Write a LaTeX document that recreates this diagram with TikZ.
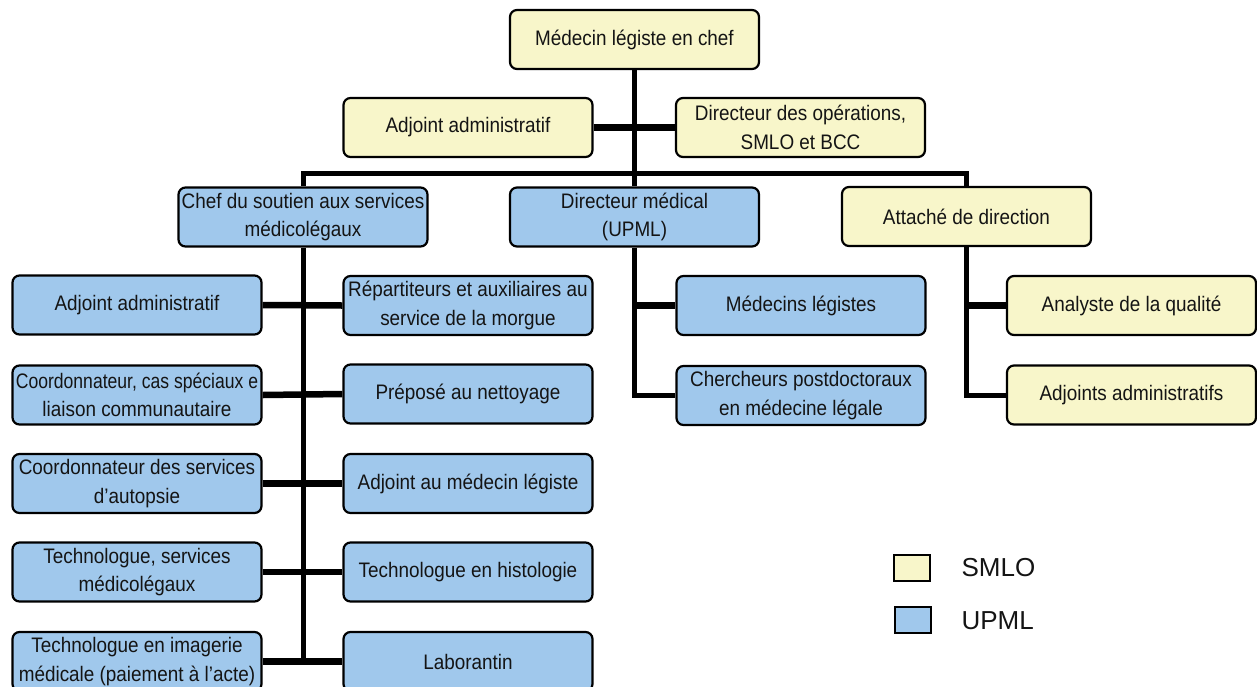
\documentclass[tikz,border=0pt]{standalone}
\usepackage{fontspec}
\usepackage{graphicx}
\setmainfont{Liberation Sans}
\newfontfamily\boxfont[FakeStretch=0.9]{Liberation Sans}
\usetikzlibrary{backgrounds}
\definecolor{smloyel}{RGB}{248,246,202}
\definecolor{upmlblue}{RGB}{160,200,236}
\definecolor{textcol}{RGB}{20,20,20}
\newcommand{\wideline}[1]{\makebox[0pt]{#1}}
\newcommand{\squeezeline}[1]{\makebox[0pt]{\scalebox{0.93}[1]{#1}}}
\begin{document}
\begin{tikzpicture}[x=1pt,y=-1pt,
  box/.style={draw=black, line width=2.2pt, rounded corners=7pt,
    minimum width=249pt, minimum height=59pt, inner sep=0pt, align=center,
    text=textcol, font=\boxfont\fontsize{21}{28.5}\selectfont},
  smlo/.style={box, fill=smloyel},
  upml/.style={box, fill=upmlblue},
  conn/.style={line width=5pt},
  stub/.style={line width=6.5pt},
  legbox/.style={draw=black, line width=2pt, minimum width=36pt, minimum height=26pt, inner sep=0pt},
  legtext/.style={anchor=west, text=textcol, font=\fontsize{26}{30}\selectfont}]
\useasboundingbox (0,0) rectangle (1257,686);
% top levels
\node[smlo] (chief)  at (634.5,39.5) {Médecin légiste en chef};
\node[smlo] (adj1)   at (468,127.5) {Adjoint administratif};
\node[smlo] (dirops) at (800.5,127.5) {Directeur des opérations,\\SMLO et BCC};
\node[upml] (chef)   at (303,217) {\wideline{Chef du soutien aux services}\\médicolégaux};
\node[upml] (dm)     at (634.5,217) {Directeur médical\\(UPML)};
\node[smlo] (att)    at (966.5,216.5) {Attaché de direction};
% left group
\node[upml] (l1) at (137,305) {Adjoint administratif};
\node[upml] (l2) at (137,395) {\squeezeline{Coordonnateur, cas spéciaux e}\\liaison communautaire};
\node[upml] (l3) at (137,483.5) {Coordonnateur des services\\d’autopsie};
\node[upml] (l4) at (137,572) {Technologue, services\\médicolégaux};
\node[upml] (l5) at (137,661.5) {\wideline{Technologue en imagerie}\\\wideline{médicale (paiement à l’acte)}};
\node[upml] (r1) at (468,305.5) {\wideline{Répartiteurs et auxiliaires au}\\service de la morgue};
\node[upml] (r2) at (468,394) {Préposé au nettoyage};
\node[upml] (r3) at (468,483.5) {Adjoint au médecin légiste};
\node[upml] (r4) at (468,572) {Technologue en histologie};
\node[upml] (r5) at (468,661.5) {Laborantin};
% middle group
\node[upml] (med)    at (801,305.5) {Médecins légistes};
\node[upml] (cherch) at (801,395.5) {Chercheurs postdoctoraux\\en médecine légale};
% right group
\node[smlo] (analyste) at (1131.5,305.5) {Analyste de la qualité};
\node[smlo] (adjs)     at (1131.5,395) {Adjoints administratifs};
% legend
\node[legbox, fill=smloyel] (legS) at (911.5,568) {};
\node[legtext] (legSt) at (958,568) {SMLO};
\node[legbox, fill=upmlblue] (legU) at (912.5,620) {};
\node[legtext] (legUt) at (958,621) {UPML};
\coordinate (bar) at (0,173);
\begin{scope}[on background layer]
\fill[white] (0,0) rectangle (1257,686);
\draw[conn] (chief.south) -- (dm.north);
\draw[stub] (adj1.east) -- (dirops.west);
\draw[conn] (chef.north) -- (chef.north |- bar) -- (att.north |- bar) -- (att.north);
\draw[conn] (chef.south) -- (chef.south |- l5.east);
\foreach \a/\b in {l1/r1,l2/r2,l3/r3,l4/r4,l5/r5}{\draw[stub] (\a.east) -- (\b.west);}
\draw[conn] (dm.south) |- (cherch.west);
\draw[stub] (dm.south |- med.west) -- (med.west);
\draw[conn] (att.south) |- (adjs.west);
\draw[stub] (att.south |- analyste.west) -- (analyste.west);
\end{scope}
\end{tikzpicture}
\end{document}
